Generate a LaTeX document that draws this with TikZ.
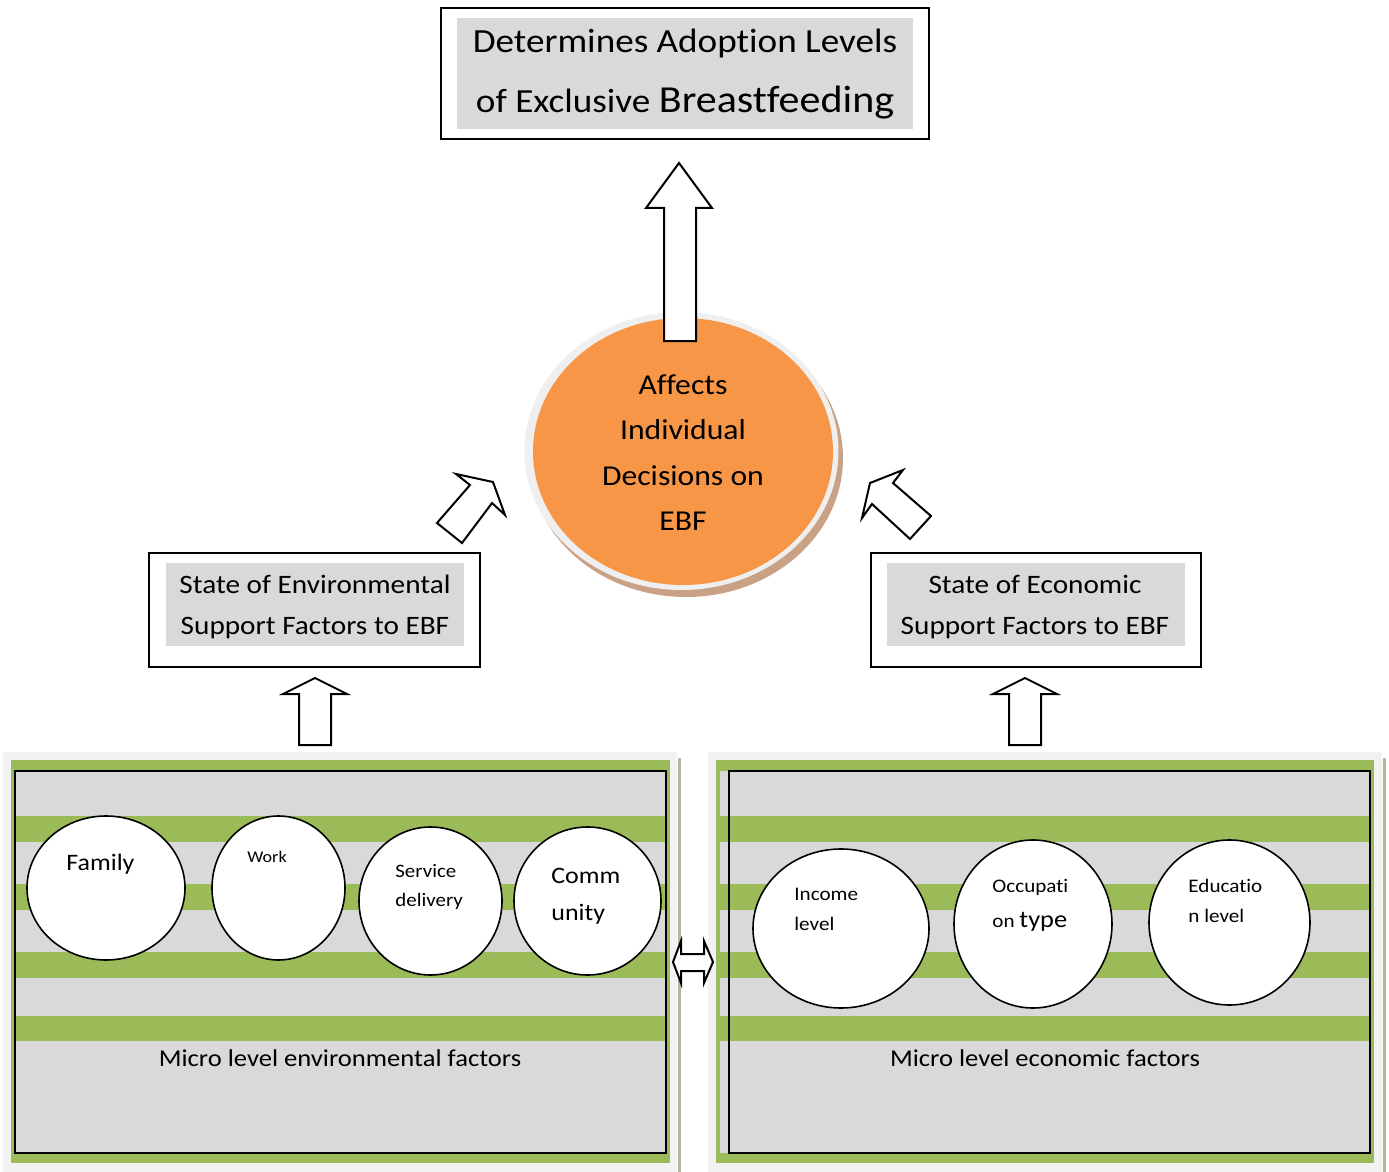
\documentclass[tikz,border=0pt]{standalone}
\usepackage{fontspec}
\usepackage{graphicx}
\setmainfont{Carlito}[Ligatures=NoCommon]
\usetikzlibrary{shapes.geometric}
\definecolor{stripegreen}{HTML}{9BBB59}
\definecolor{panelgray}{HTML}{D9D9D9}
\definecolor{backgray}{HTML}{F2F2F2}
\definecolor{shadowline}{HTML}{AEBA9E}
\definecolor{orangefill}{HTML}{F79646}
\definecolor{ringgray}{HTML}{EFEFEF}
\definecolor{shadowbrown}{HTML}{C9A185}
\newcommand{\hs}[1]{\scalebox{1.1}[1]{#1}}
\newcommand{\fs}[1]{\fontsize{#1}{#1}\selectfont}
\tikzset{
  txt/.style={inner sep=0pt, anchor=base},
  txtl/.style={inner sep=0pt, anchor=base west},
  boxline/.style={draw=black, line width=1pt},
  blockarrow/.style={draw=black, fill=white, line width=1pt, line join=miter},
  factor/.style={draw=black, fill=white, line width=0.8pt, ellipse, inner sep=0pt},
}
\begin{document}
\begin{tikzpicture}[x=0.5pt,y=-0.5pt]
\useasboundingbox (0,0) rectangle (1389,1172);
\fill[white] (0,0) rectangle (1389,1172);

% ---------- top box ----------
\draw[boxline] (441,8) rectangle (929,139);
\fill[panelgray] (457,18) rectangle (913,129);
\node[txt] (top1) at (685,53) {\hs{\fs{16.9}Determines Adoption Levels}};
\node[txt] (top2) at (685,113) {\hs{\fs{16.9}of Exclusive \fs{19.1}Breastfeeding}};

% ---------- central circle ----------
\fill[shadowbrown] (686,458) ellipse [x radius=78.5pt, y radius=69.5pt];
\fill[ringgray] (681.5,451) ellipse [x radius=78.5pt, y radius=69.5pt];
\node[ellipse, fill=orangefill, minimum width=150pt, minimum height=133.5pt, inner sep=0pt] (core) at (683,451.5) {};
\node[txt] (c1) at (683,394) {\hs{\fs{14.4}Affects}};
\node[txt] (c2) at (683,439) {\hs{\fs{14.4}Individual}};
\node[txt] (c3) at (683,485) {\hs{\fs{14.4}Decisions on}};
\node[txt] (c4) at (683,530) {\hs{\fs{14.4}EBF}};

% big up arrow
\draw[blockarrow] (679,163) -- (712,208) -- (696,208) -- (696,341) -- (664,341) -- (664,208) -- (646,208) -- cycle;

% diagonal arrows
\draw[blockarrow] (493,482) -- (505,515) -- (492,503) -- (462,543) -- (437,523) -- (470,485) -- (456,474) -- cycle;
\draw[blockarrow] (870,483) -- (903,470) -- (893,483) -- (931,516) -- (910,539) -- (872,504) -- (862,518) -- cycle;

% ---------- middle boxes ----------
\draw[boxline] (149,553) rectangle (480,667);
\fill[panelgray] (166,563) rectangle (464,646);
\node[txt] (env1) at (315,593) {\hs{\fs{13.3}State of Environmental}};
\node[txt] (env2) at (315,634) {\hs{\fs{13.3}Support Factors to EBF}};

\draw[boxline] (871,553) rectangle (1201,667);
\fill[panelgray] (887,563) rectangle (1185,646);
\node[txt] (eco1) at (1035,593) {\hs{\fs{13.3}State of Economic}};
\node[txt] (eco2) at (1035,634) {\hs{\fs{13.3}Support Factors to EBF}};

% small up arrows
\draw[blockarrow] (315,678) -- (347,694) -- (331,694) -- (331,745) -- (299,745) -- (299,694) -- (283,694) -- cycle;
\draw[blockarrow] (1025,678) -- (1057,694) -- (1041,694) -- (1041,745) -- (1009,745) -- (1009,694) -- (993,694) -- cycle;

% ---------- left panel ----------
\fill[backgray] (3,752) rectangle (677,1172);
\fill[shadowline] (678,758) rectangle (681,1172);
\fill[stripegreen] (11,760) rectangle (670,1163);
\fill[panelgray] (15,771) rectangle (666,1153);
\foreach \ya/\yb in {816/842, 884/910, 952/978, 1016/1041}
  \fill[stripegreen] (11,\ya) rectangle (670,\yb);
\draw[black, line width=1pt] (15,771) rectangle (666,1153);

\node[factor, minimum width=79pt, minimum height=72pt] (family) at (106,888) {};
\node[factor, minimum width=66.5pt, minimum height=72pt] (work) at (278.5,888) {};
\node[factor, minimum width=71.5pt, minimum height=74pt] (service) at (430.5,901) {};
\node[factor, minimum width=73.5pt, minimum height=74pt] (community) at (587.5,901) {};
\node[txtl] (tfamily) at (66,870) {\hs{\fs{11.8}Family}};
\node[txtl] (twork) at (247,862) {\hs{\fs{8.2}Work}};
\node[txtl] (tserv1) at (395,877) {\hs{\fs{9.5}Service}};
\node[txtl] (tserv2) at (395,906) {\hs{\fs{9.5}delivery}};
\node[txtl] (tcomm1) at (551,883) {\hs{\fs{11.8}Comm}};
\node[txtl] (tcomm2) at (551,920) {\hs{\fs{11.8}unity}};
\node[txt] (envlabel) at (340,1066) {\hs{\fs{12.1}Micro level environmental factors}};

% ---------- right panel ----------
\fill[backgray] (708,752) rectangle (1382,1172);
\fill[shadowline] (1383,758) rectangle (1386,1172);
\fill[stripegreen] (716,760) rectangle (1374,1163);
\fill[panelgray] (720,771) rectangle (1370,1153);
\foreach \ya/\yb in {816/842, 884/910, 952/978, 1016/1041}
  \fill[stripegreen] (716,\ya) rectangle (1374,\yb);
\draw[black, line width=1pt] (729,771) rectangle (1370,1153);

\node[factor, minimum width=88pt, minimum height=79.5pt] (income) at (841,928.5) {};
\node[factor, minimum width=79pt, minimum height=84pt] (occupation) at (1033,924) {};
\node[factor, minimum width=80.5pt, minimum height=82.5pt] (education) at (1229.5,922.5) {};
\node[txtl] (tinc1) at (794,900) {\hs{\fs{9.6}Income}};
\node[txtl] (tinc2) at (794,930) {\hs{\fs{9.6}level}};
\node[txtl] (tocc1) at (992,892) {\hs{\fs{9.6}Occupati}};
\node[txtl] (tocc2) at (992,927) {\hs{\fs{9.6}on \fs{12}type}};
\node[txtl] (tedu1) at (1188,892) {\hs{\fs{9.6}Educatio}};
\node[txtl] (tedu2) at (1188,922) {\hs{\fs{9.6}n level}};
\node[txt] (ecolabel) at (1045,1066) {\hs{\fs{12.1}Micro level economic factors}};

% double arrow between panels
\draw[blockarrow] (673,962) -- (681,941) -- (681,954) -- (704,954) -- (704,941) -- (713,962) -- (704,983) -- (704,971) -- (681,971) -- (681,983) -- cycle;
\end{tikzpicture}
\end{document}
